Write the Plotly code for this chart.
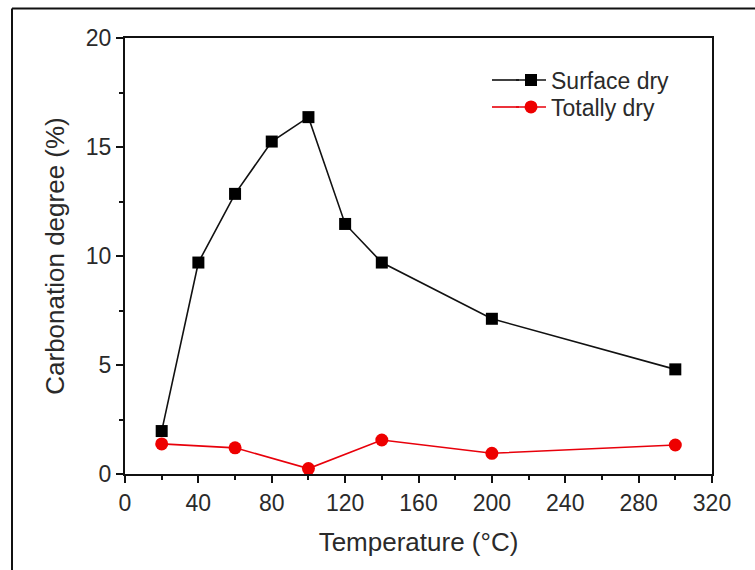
import plotly.graph_objects as go

temp_surface = [20, 40, 60, 80, 100, 120, 140, 200, 300]
surface_dry = [1.97, 9.7, 12.85, 15.25, 16.37, 11.47, 9.7, 7.12, 4.8]
temp_total = [20, 60, 100, 140, 200, 300]
totally_dry = [1.38, 1.2, 0.25, 1.56, 0.95, 1.33]
x_ticks = [0, 40, 80, 120, 160, 200, 240, 280, 320]
y_ticks = [0, 5, 10, 15, 20]

W, H = 755, 570
L, R, T, B = 125, 43, 38, 96
pw, ph = W - L - R, H - T - B

black = "#111111"
red = "#e8000b"

fig = go.Figure()
fig.add_trace(go.Scatter(
    x=temp_surface, y=surface_dry, name="Surface dry", mode="lines+markers",
    line=dict(color=black, width=1.6),
    marker=dict(symbol="square", size=12, color="#000000"),
    cliponaxis=False, legend="legend"))
fig.add_trace(go.Scatter(
    x=temp_total, y=totally_dry, name="Totally dry", mode="lines+markers",
    line=dict(color=red, width=1.6),
    marker=dict(symbol="circle", size=13, color="#ee0000"),
    cliponaxis=False, legend="legend2"))

fam = "Liberation Sans, Arial, sans-serif"
tick_font = dict(family=fam, size=23, color="#2a2a2a")
title_font = dict(family=fam, size=26, color="#2a2a2a")
leg_font = dict(family=fam, size=23, color="#2a2a2a")

LEG_X = 511
ROWS = [80, 107]


def leg(row_center):
    return dict(x=(LEG_X - L) / pw, y=1 - (row_center - T) / ph, xanchor="left",
                yanchor="middle", bgcolor="rgba(0,0,0,0)", font=leg_font,
                itemwidth=30, borderwidth=0)


fig.update_layout(
    width=W, height=H,
    margin=dict(l=L, r=R, t=T, b=B),
    paper_bgcolor="white", plot_bgcolor="white",
    font=dict(family=fam, size=20, color="#2a2a2a"),
    showlegend=True,
    legend=leg(ROWS[0]),
    legend2=leg(ROWS[1]),
    xaxis=dict(range=[0, 320], tickvals=x_ticks, ticks="outside", ticklen=7, tickwidth=2,
               tickcolor="#111", showline=True, linecolor="#111", linewidth=2, mirror=True,
               showgrid=False, zeroline=False,
               minor=dict(tickvals=[20, 60, 100, 140, 180, 220, 260, 300], ticks="outside",
                          ticklen=4, tickwidth=2, tickcolor="#111"),
               title=dict(text="Temperature (°C)", font=title_font, standoff=18),
               tickfont=tick_font),
    yaxis=dict(range=[0, 20], tickvals=y_ticks, ticks="outside", ticklen=7, tickwidth=2,
               tickcolor="#111", showline=True, linecolor="#111", linewidth=2, mirror=True,
               showgrid=False, zeroline=False,
               minor=dict(tickvals=[2.5, 7.5, 12.5, 17.5], ticks="outside",
                          ticklen=4, tickwidth=2, tickcolor="#111"),
               title=dict(text="Carbonation degree (%)", font=title_font, standoff=14),
               tickfont=tick_font),
)

# legend sample lines extended to the left (longer key lines as in the original)
for row, col in zip(ROWS, [black, red]):
    yp = 1 - (row - T) / ph
    fig.add_shape(type="line", xref="paper", yref="paper",
                  x0=(492 - L) / pw, x1=(LEG_X + 8 - L) / pw, y0=yp, y1=yp,
                  line=dict(color=col, width=1.6))

# outer frame lines (left and top of the image border)
fig.add_shape(type="line", xref="paper", yref="paper",
              x0=(12 - L) / pw, x1=(12 - L) / pw, y0=-(H - T - ph + 5) / ph, y1=1 + (T - 8.5) / ph,
              line=dict(color="#111", width=2))
fig.add_shape(type="line", xref="paper", yref="paper",
              x0=(12 - L) / pw, x1=(W + 5 - L) / pw, y0=1 + (T - 8.5) / ph, y1=1 + (T - 8.5) / ph,
              line=dict(color="#111", width=2))

fig.write_html("out.html")
